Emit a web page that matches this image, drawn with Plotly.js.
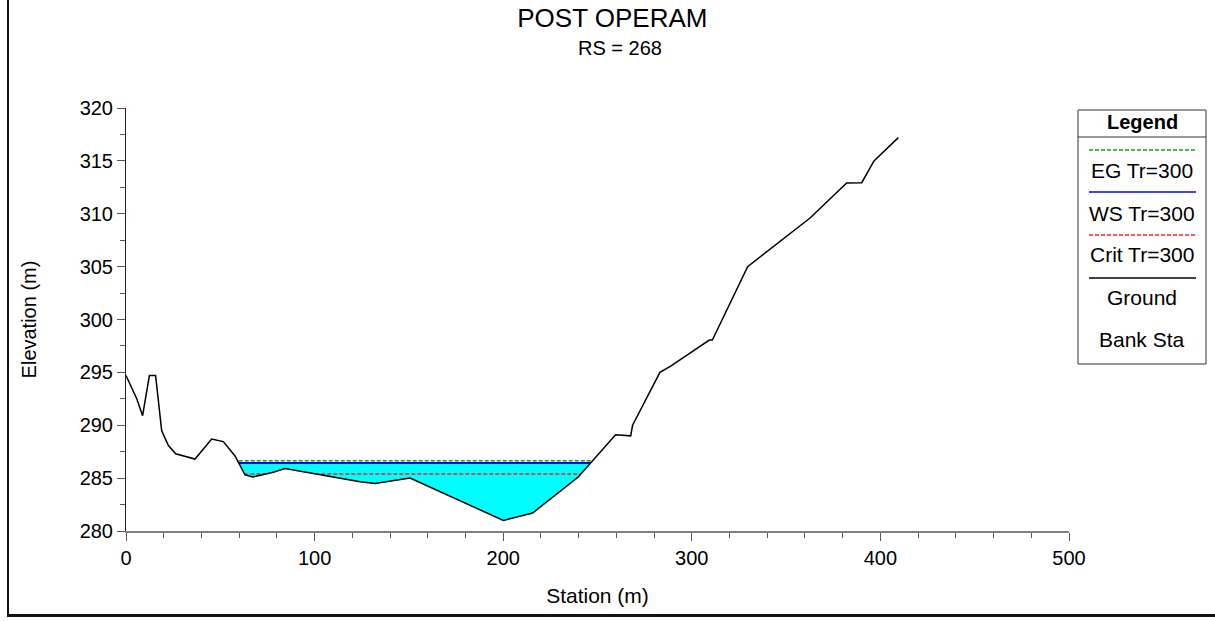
<!DOCTYPE html>
<html>
<head>
<meta charset="utf-8">
<script src="https://cdn.plot.ly/plotly-3.0.1.min.js"></script>
<style>
  html, body { margin: 0; padding: 0; background: #fff; }
  #wrap { position: relative; width: 1215px; height: 621px; overflow: hidden; }
  #chart { position: absolute; left: 0; top: 0; width: 1215px; height: 621px; }
  .frameL { position: absolute; left: 7px; top: 0; width: 2px; height: 617px; background: #111; z-index: 5; }
  .frameB { position: absolute; left: 7px; top: 614px; width: 1208px; height: 3px; background: #111; z-index: 5; }
</style>
</head>
<body>
<div id="wrap">
  <div id="chart"></div>
  <div class="frameL"></div>
  <div class="frameB"></div>
</div>
<script>
// ---------------- DATA ----------------
const chartTitle = 'POST OPERAM';
const chartSubtitle = 'RS = 268';

// Ground profile (Station m, Elevation m)
const groundStation = [0, 5.7, 8.8, 12.4, 15.7, 18.9, 22.4, 26.3, 36.6, 45.4, 51.6, 57.8, 63.1, 67.2, 78.1, 84.3,
  124.1, 132.0, 150.6, 200.1, 215.6, 239.8, 259.6, 267.6, 268.6, 283.1, 288.8, 309.3, 310.9, 329.6,
  362.7, 382.1, 390.1, 396.6, 409.5];
const groundElev = [294.7, 292.5, 290.9, 294.7, 294.7, 289.5, 288.1, 287.3, 286.8, 288.7, 288.45, 287.1, 285.3, 285.1, 285.55, 285.9,
  284.66, 284.5, 285.0, 281.0, 281.7, 285.1, 289.1, 289.0, 290.0, 295.0, 295.6, 298.06, 298.06, 305.0,
  309.6, 312.9, 312.94, 315.0, 317.2];

// Water profiles
const profileNames = ['EG Tr=300', 'WS Tr=300', 'Crit Tr=300'];
const profileElev = [286.65, 286.43, 285.4];
const legendNames = ['EG Tr=300', 'WS Tr=300', 'Crit Tr=300', 'Ground', 'Bank Sta'];

const xTicks = [0, 100, 200, 300, 400, 500];
const yTicks = [280, 285, 290, 295, 300, 305, 310, 315, 320];

// ---------------- HELPERS ----------------
function wetSegments(level) {
  const segs = [];
  let start = null;
  for (let i = 0; i < groundStation.length - 1; i++) {
    const x0 = groundStation[i], y0 = groundElev[i];
    const x1 = groundStation[i + 1], y1 = groundElev[i + 1];
    const below0 = y0 < level, below1 = y1 < level;
    if (i === 0 && below0) start = x0;
    if (!below0 && below1) {
      start = x0 + (level - y0) / (y1 - y0) * (x1 - x0);
    } else if (below0 && !below1) {
      const xe = x0 + (level - y0) / (y1 - y0) * (x1 - x0);
      segs.push([start, xe]);
      start = null;
    }
  }
  return segs;
}

function levelLine(segs, level) {
  const xs = [], ys = [];
  segs.forEach((s, k) => {
    if (k > 0) { xs.push(null); ys.push(null); }
    xs.push(s[0], s[1]); ys.push(level, level);
  });
  return { xs, ys };
}

function waterPolygon(segs, level) {
  const xs = [], ys = [];
  segs.forEach((s, k) => {
    if (k > 0) { xs.push(null); ys.push(null); }
    xs.push(s[0]); ys.push(level);
    for (let i = 0; i < groundStation.length; i++) {
      if (groundStation[i] > s[0] && groundStation[i] < s[1]) {
        xs.push(groundStation[i]); ys.push(groundElev[i]);
      }
    }
    xs.push(s[1]); ys.push(level);
    xs.push(s[0]); ys.push(level);
  });
  return { xs, ys };
}

const egLevel = profileElev[0], wsLevel = profileElev[1], critLevel = profileElev[2];
const wsSegs = wetSegments(wsLevel);
const critSegs = wetSegments(critLevel);
const fillPoly = waterPolygon(wsSegs, wsLevel);
const wsLine = levelLine(wsSegs, wsLevel);
const egLine = levelLine(wsSegs, egLevel);
const critLine = levelLine(critSegs, critLevel);

const egColor = '#1f9a1f', wsColor = '#0000ff', critColor = '#ff2020', groundColor = '#000000';
const dashStyle = '4px,2px';

const traces = [
  { x: fillPoly.xs, y: fillPoly.ys, type: 'scatter', mode: 'lines', fill: 'toself', fillcolor: '#00ffff',
    line: { width: 0, color: '#00ffff' }, hoverinfo: 'skip', showlegend: false },
  { x: critLine.xs, y: critLine.ys, type: 'scatter', mode: 'lines', name: profileNames[2],
    line: { color: critColor, width: 1.5, dash: dashStyle }, showlegend: false },
  { x: wsLine.xs, y: wsLine.ys, type: 'scatter', mode: 'lines', name: profileNames[1],
    line: { color: wsColor, width: 2 }, showlegend: false },
  { x: egLine.xs, y: egLine.ys, type: 'scatter', mode: 'lines', name: profileNames[0],
    line: { color: egColor, width: 1.5, dash: dashStyle }, showlegend: false },
  { x: groundStation, y: groundElev, type: 'scatter', mode: 'lines', name: 'Ground',
    line: { color: groundColor, width: 1.5 }, showlegend: false }
];

// ---------------- LAYOUT ----------------
const W = 1215, H = 621;
const mL = 126, mR = 146, mT = 108, mB = 90;
const pw = W - mL - mR, ph = H - mT - mB;
const px = v => (v - mL) / pw;
const py = v => (H - mB - v) / ph;

const font = 'Arial, "Liberation Sans", sans-serif';

const lgX0 = 1078, lgX1 = 1206, lgY0 = 110, lgY1 = 364;
const lgLineX0 = 1089, lgLineX1 = 1196;
const lgSymY = [150, 192, 235, 278, null];
const lgTextY = [170, 213, 255, 297, 339];
const lgColors = [egColor, wsColor, critColor, groundColor, null];
const lgDash = [dashStyle, 'solid', dashStyle, 'solid', null];

const shapes = [
  { type: 'rect', xref: 'paper', yref: 'paper', x0: px(lgX0), x1: px(lgX1), y0: py(lgY1), y1: py(lgY0),
    line: { color: '#333', width: 1 }, fillcolor: 'rgba(0,0,0,0)' },
  { type: 'line', xref: 'paper', yref: 'paper', x0: px(lgX0), x1: px(lgX1), y0: py(137), y1: py(137),
    line: { color: '#333', width: 1 } }
];
const annotations = [
  { xref: 'paper', yref: 'paper', x: px((lgX0 + lgX1) / 2), y: py(122), text: '<b>Legend</b>', showarrow: false,
    xanchor: 'center', yanchor: 'middle', font: { family: font, size: 20, color: '#000' } },
  { xref: 'paper', yref: 'paper', x: px(620), y: py(48), text: chartSubtitle, showarrow: false,
    xanchor: 'center', yanchor: 'middle', font: { family: font, size: 20, color: '#000' } }
];
legendNames.forEach((n, i) => {
  if (lgSymY[i] !== null) {
    shapes.push({ type: 'line', xref: 'paper', yref: 'paper', x0: px(lgLineX0), x1: px(lgLineX1),
      y0: py(lgSymY[i]), y1: py(lgSymY[i]), line: { color: lgColors[i], width: 1.5, dash: lgDash[i] } });
  }
  annotations.push({ xref: 'paper', yref: 'paper', x: px((lgX0 + lgX1) / 2), y: py(lgTextY[i]), text: n,
    showarrow: false, xanchor: 'center', yanchor: 'middle', font: { family: font, size: 21, color: '#000' } });
});

const layout = {
  width: W, height: H,
  margin: { l: mL, r: mR, t: mT, b: mB, pad: 0 },
  paper_bgcolor: '#fff', plot_bgcolor: '#fff',
  font: { family: font, size: 20, color: '#000' },
  showlegend: false,
  title: {
    text: chartTitle, font: { family: font, size: 26, color: '#000' },
    xref: 'container', x: 0.504, xanchor: 'center',
    yref: 'container', y: 1 - 18 / H, yanchor: 'middle'
  },
  xaxis: {
    range: [0, 500], tickvals: xTicks, ticktext: xTicks.map(String),
    ticks: 'outside', ticklen: 8, tickwidth: 1, tickcolor: '#555',
    showline: true, linecolor: '#808080', linewidth: 2, mirror: false,
    showgrid: false, zeroline: false,
    tickfont: { family: font, size: 20, color: '#000' },
    minor: { dtick: 20, tick0: 0, ticks: 'outside', ticklen: 5, tickwidth: 1, tickcolor: '#555', showgrid: false },
    title: { text: 'Station (m)', font: { family: font, size: 21, color: '#000' }, standoff: 20 }
  },
  yaxis: {
    range: [280, 320], tickvals: yTicks, ticktext: yTicks.map(String),
    ticks: 'outside', ticklen: 8, tickwidth: 1, tickcolor: '#555',
    showline: true, linecolor: '#222', linewidth: 1,
    showgrid: false, zeroline: false,
    tickfont: { family: font, size: 20, color: '#000' },
    minor: { dtick: 2.5, tick0: 280, ticks: 'outside', ticklen: 5, tickwidth: 1, tickcolor: '#555', showgrid: false },
    title: { text: 'Elevation (m)', font: { family: font, size: 20, color: '#000' }, standoff: 37 }
  },
  shapes: shapes,
  annotations: annotations
};

Plotly.newPlot('chart', traces, layout, { displayModeBar: false, staticPlot: true });
</script>
</body>
</html>
